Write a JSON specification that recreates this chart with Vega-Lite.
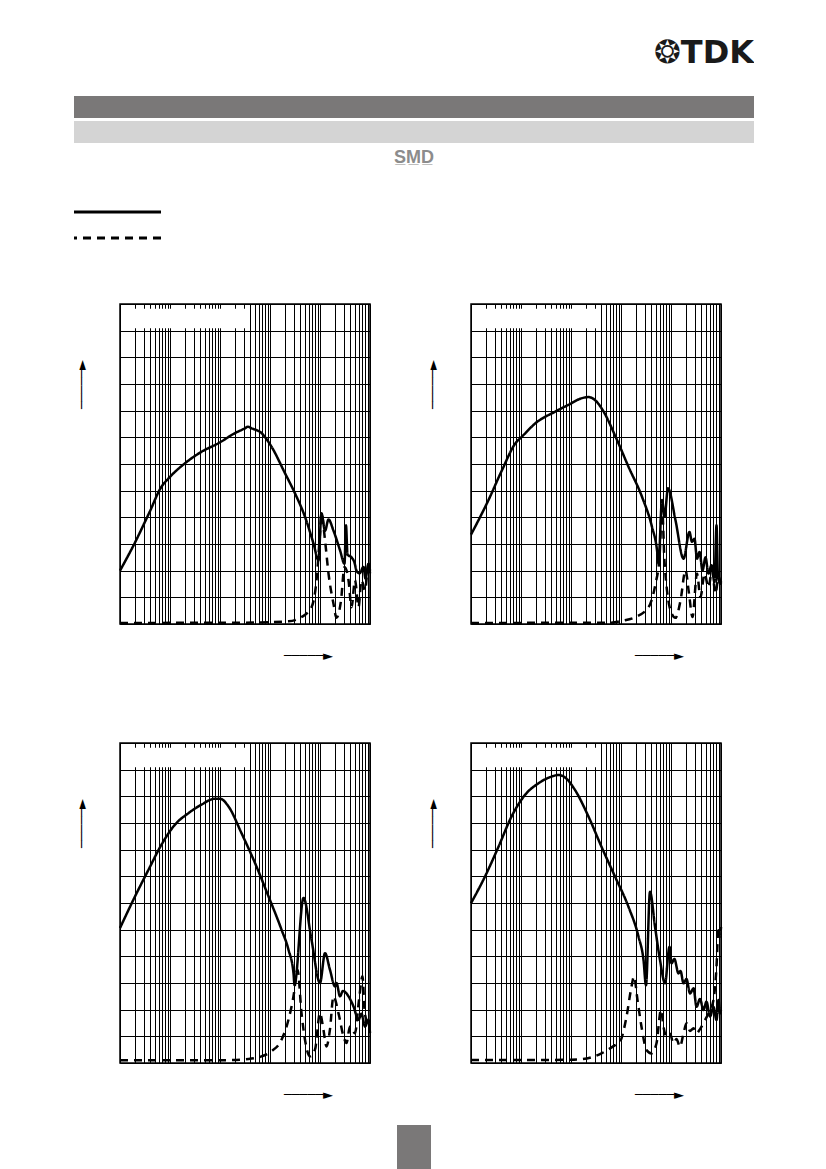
{
  "$schema": "https://vega.github.io/schema/vega-lite/v6.json",
  "background": "white",
  "padding": {"left": 72, "top": 0, "right": 0, "bottom": 0},
  "autosize": {"type": "pad"},
  "bounds": "flush",
  "spacing": 0,
  "config": {
    "view": {"stroke": null},
    "line": {"interpolate": "monotone", "strokeWidth": 2.5, "stroke": "black", "clip": true},
    "axis": {
      "grid": true,
      "gridColor": "black",
      "gridWidth": 1,
      "gridOpacity": 1,
      "labels": false,
      "ticks": false,
      "domain": false,
      "titleFont": "DejaVu Sans",
      "titleFontSize": 13,
      "titleFontWeight": "bold",
      "titleColor": "black",
      "titleAlign": "center",
      "titleBaseline": "middle",
      "titlePadding": 0
    },
    "axisX": {"titleX": 188, "titleY": 31},
    "axisY": {"titleX": -39, "titleY": 80, "titleAngle": 270}
  },
  "datasets": {
    "curves": [
      {"p": 1, "s": "solid", "f": 0.01, "db": 20},
      {"p": 1, "s": "solid", "f": 0.0195, "db": 30.2},
      {"p": 1, "s": "solid", "f": 0.038, "db": 41.5},
      {"p": 1, "s": "solid", "f": 0.0676, "db": 51.5},
      {"p": 1, "s": "solid", "f": 0.0933, "db": 54.6},
      {"p": 1, "s": "solid", "f": 0.2, "db": 60.3},
      {"p": 1, "s": "solid", "f": 0.427, "db": 64.6},
      {"p": 1, "s": "solid", "f": 0.933, "db": 67.8},
      {"p": 1, "s": "solid", "f": 2.0, "db": 71.6},
      {"p": 1, "s": "solid", "f": 3.16, "db": 73.4},
      {"p": 1, "s": "solid", "f": 3.63, "db": 74},
      {"p": 1, "s": "solid", "f": 4.27, "db": 73.4},
      {"p": 1, "s": "solid", "f": 6.76, "db": 71.6},
      {"p": 1, "s": "solid", "f": 10.7, "db": 66.5},
      {"p": 1, "s": "solid", "f": 20, "db": 56.5},
      {"p": 1, "s": "solid", "f": 31.6, "db": 49},
      {"p": 1, "s": "solid", "f": 50.1, "db": 40.2},
      {"p": 1, "s": "solid", "f": 74.1, "db": 30.2},
      {"p": 1, "s": "solid", "f": 93.3, "db": 23.9},
      {"p": 1, "s": "solid", "f": 107, "db": 41.5},
      {"p": 1, "s": "solid", "f": 126, "db": 35},
      {"p": 1, "s": "solid", "f": 148, "db": 39.2},
      {"p": 1, "s": "solid", "f": 186, "db": 35},
      {"p": 1, "s": "solid", "f": 251, "db": 27.7},
      {"p": 1, "s": "solid", "f": 309, "db": 22.6},
      {"p": 1, "s": "solid", "f": 331, "db": 37},
      {"p": 1, "s": "solid", "f": 355, "db": 26},
      {"p": 1, "s": "solid", "f": 427, "db": 25},
      {"p": 1, "s": "solid", "f": 490, "db": 23},
      {"p": 1, "s": "solid", "f": 537, "db": 20},
      {"p": 1, "s": "solid", "f": 617, "db": 19},
      {"p": 1, "s": "solid", "f": 741, "db": 21.4},
      {"p": 1, "s": "solid", "f": 813, "db": 17},
      {"p": 1, "s": "solid", "f": 933, "db": 22.6},
      {"p": 1, "s": "solid", "f": 1000, "db": 20},
      {"p": 1, "s": "dashed", "f": 0.01, "db": 0.4},
      {"p": 1, "s": "dashed", "f": 3.16, "db": 0.5},
      {"p": 1, "s": "dashed", "f": 23.4, "db": 1},
      {"p": 1, "s": "dashed", "f": 42.7, "db": 2.6},
      {"p": 1, "s": "dashed", "f": 67.6, "db": 6.3},
      {"p": 1, "s": "dashed", "f": 85.1, "db": 16.4},
      {"p": 1, "s": "dashed", "f": 100, "db": 34},
      {"p": 1, "s": "dashed", "f": 107, "db": 41.5},
      {"p": 1, "s": "dashed", "f": 126, "db": 31.4},
      {"p": 1, "s": "dashed", "f": 148, "db": 18.9},
      {"p": 1, "s": "dashed", "f": 186, "db": 7.6},
      {"p": 1, "s": "dashed", "f": 214, "db": 2.3},
      {"p": 1, "s": "dashed", "f": 263, "db": 8.8},
      {"p": 1, "s": "dashed", "f": 309, "db": 21.4},
      {"p": 1, "s": "dashed", "f": 372, "db": 16.4},
      {"p": 1, "s": "dashed", "f": 427, "db": 6.3},
      {"p": 1, "s": "dashed", "f": 501, "db": 16.4},
      {"p": 1, "s": "dashed", "f": 589, "db": 6.3},
      {"p": 1, "s": "dashed", "f": 676, "db": 16.4},
      {"p": 1, "s": "dashed", "f": 794, "db": 12.6},
      {"p": 1, "s": "dashed", "f": 933, "db": 22.6},
      {"p": 1, "s": "dashed", "f": 1000, "db": 19},
      {"p": 2, "s": "solid", "f": 0.01, "db": 33.5},
      {"p": 2, "s": "solid", "f": 0.0224, "db": 46.5},
      {"p": 2, "s": "solid", "f": 0.0417, "db": 57.7},
      {"p": 2, "s": "solid", "f": 0.0776, "db": 67.8},
      {"p": 2, "s": "solid", "f": 0.105, "db": 70.3},
      {"p": 2, "s": "solid", "f": 0.195, "db": 75.3},
      {"p": 2, "s": "solid", "f": 0.49, "db": 79.7},
      {"p": 2, "s": "solid", "f": 0.891, "db": 82.2},
      {"p": 2, "s": "solid", "f": 1.66, "db": 84.7},
      {"p": 2, "s": "solid", "f": 2.24, "db": 85.1},
      {"p": 2, "s": "solid", "f": 3.09, "db": 83.8},
      {"p": 2, "s": "solid", "f": 4.47, "db": 79.7},
      {"p": 2, "s": "solid", "f": 7.76, "db": 70.3},
      {"p": 2, "s": "solid", "f": 14.1, "db": 59},
      {"p": 2, "s": "solid", "f": 26.3, "db": 47.7},
      {"p": 2, "s": "solid", "f": 41.7, "db": 36.4},
      {"p": 2, "s": "solid", "f": 52.5, "db": 27.7},
      {"p": 2, "s": "solid", "f": 56.2, "db": 22.6},
      {"p": 2, "s": "solid", "f": 66.1, "db": 46.5},
      {"p": 2, "s": "solid", "f": 74.1, "db": 40.2},
      {"p": 2, "s": "solid", "f": 87.1, "db": 50.9},
      {"p": 2, "s": "solid", "f": 123, "db": 38.9},
      {"p": 2, "s": "solid", "f": 178, "db": 24.5},
      {"p": 2, "s": "solid", "f": 234, "db": 34.5},
      {"p": 2, "s": "solid", "f": 263, "db": 30.8},
      {"p": 2, "s": "solid", "f": 295, "db": 32},
      {"p": 2, "s": "solid", "f": 331, "db": 24.5},
      {"p": 2, "s": "solid", "f": 372, "db": 27},
      {"p": 2, "s": "solid", "f": 427, "db": 20.1},
      {"p": 2, "s": "solid", "f": 490, "db": 25},
      {"p": 2, "s": "solid", "f": 562, "db": 18.9},
      {"p": 2, "s": "solid", "f": 646, "db": 22},
      {"p": 2, "s": "solid", "f": 741, "db": 15.7},
      {"p": 2, "s": "solid", "f": 813, "db": 37},
      {"p": 2, "s": "solid", "f": 871, "db": 17.6},
      {"p": 2, "s": "solid", "f": 977, "db": 15.1},
      {"p": 2, "s": "solid", "f": 1000, "db": 16},
      {"p": 2, "s": "dashed", "f": 0.01, "db": 0.4},
      {"p": 2, "s": "dashed", "f": 6.31, "db": 0.5},
      {"p": 2, "s": "dashed", "f": 10.5, "db": 1.2},
      {"p": 2, "s": "dashed", "f": 19.5, "db": 2.6},
      {"p": 2, "s": "dashed", "f": 35.5, "db": 6.3},
      {"p": 2, "s": "dashed", "f": 49, "db": 15.1},
      {"p": 2, "s": "dashed", "f": 58.9, "db": 25},
      {"p": 2, "s": "dashed", "f": 66.1, "db": 44},
      {"p": 2, "s": "dashed", "f": 74.1, "db": 23.6},
      {"p": 2, "s": "dashed", "f": 83.2, "db": 12.6},
      {"p": 2, "s": "dashed", "f": 97.7, "db": 5.1},
      {"p": 2, "s": "dashed", "f": 123, "db": 2.3},
      {"p": 2, "s": "dashed", "f": 155, "db": 8.8},
      {"p": 2, "s": "dashed", "f": 195, "db": 20.1},
      {"p": 2, "s": "dashed", "f": 229, "db": 11.4},
      {"p": 2, "s": "dashed", "f": 269, "db": 2.6},
      {"p": 2, "s": "dashed", "f": 331, "db": 18.9},
      {"p": 2, "s": "dashed", "f": 389, "db": 10.1},
      {"p": 2, "s": "dashed", "f": 468, "db": 18.9},
      {"p": 2, "s": "dashed", "f": 562, "db": 13.8},
      {"p": 2, "s": "dashed", "f": 661, "db": 20.1},
      {"p": 2, "s": "dashed", "f": 776, "db": 11.4},
      {"p": 2, "s": "dashed", "f": 891, "db": 17.6},
      {"p": 2, "s": "dashed", "f": 1000, "db": 15.1},
      {"p": 3, "s": "solid", "f": 0.01, "db": 50.6},
      {"p": 3, "s": "solid", "f": 0.02, "db": 62.5},
      {"p": 3, "s": "solid", "f": 0.0372, "db": 72.5},
      {"p": 3, "s": "solid", "f": 0.0676, "db": 81.9},
      {"p": 3, "s": "solid", "f": 0.126, "db": 89.4},
      {"p": 3, "s": "solid", "f": 0.234, "db": 93.7},
      {"p": 3, "s": "solid", "f": 0.427, "db": 96.9},
      {"p": 3, "s": "solid", "f": 0.794, "db": 99.1},
      {"p": 3, "s": "solid", "f": 1.0, "db": 99.1},
      {"p": 3, "s": "solid", "f": 1.48, "db": 96.2},
      {"p": 3, "s": "solid", "f": 2.69, "db": 86.2},
      {"p": 3, "s": "solid", "f": 5.01, "db": 75},
      {"p": 3, "s": "solid", "f": 9.33, "db": 62.5},
      {"p": 3, "s": "solid", "f": 17, "db": 50},
      {"p": 3, "s": "solid", "f": 23.4, "db": 42.5},
      {"p": 3, "s": "solid", "f": 29.5, "db": 33.7},
      {"p": 3, "s": "solid", "f": 30.9, "db": 29.4},
      {"p": 3, "s": "solid", "f": 46.8, "db": 61.9},
      {"p": 3, "s": "solid", "f": 67.6, "db": 46.2},
      {"p": 3, "s": "solid", "f": 100, "db": 30},
      {"p": 3, "s": "solid", "f": 126, "db": 41.2},
      {"p": 3, "s": "solid", "f": 158, "db": 35},
      {"p": 3, "s": "solid", "f": 200, "db": 28.7},
      {"p": 3, "s": "solid", "f": 214, "db": 30},
      {"p": 3, "s": "solid", "f": 251, "db": 25},
      {"p": 3, "s": "solid", "f": 288, "db": 27},
      {"p": 3, "s": "solid", "f": 372, "db": 25},
      {"p": 3, "s": "solid", "f": 468, "db": 21.2},
      {"p": 3, "s": "solid", "f": 589, "db": 16.2},
      {"p": 3, "s": "solid", "f": 676, "db": 18.5},
      {"p": 3, "s": "solid", "f": 794, "db": 13.7},
      {"p": 3, "s": "solid", "f": 933, "db": 16.2},
      {"p": 3, "s": "solid", "f": 1000, "db": 11.2},
      {"p": 3, "s": "dashed", "f": 0.01, "db": 1},
      {"p": 3, "s": "dashed", "f": 1, "db": 1},
      {"p": 3, "s": "dashed", "f": 3.72, "db": 1.5},
      {"p": 3, "s": "dashed", "f": 6.76, "db": 2.5},
      {"p": 3, "s": "dashed", "f": 10.7, "db": 4.4},
      {"p": 3, "s": "dashed", "f": 17, "db": 8.7},
      {"p": 3, "s": "dashed", "f": 23.4, "db": 16.2},
      {"p": 3, "s": "dashed", "f": 29.5, "db": 25},
      {"p": 3, "s": "dashed", "f": 35.5, "db": 35},
      {"p": 3, "s": "dashed", "f": 42.7, "db": 18.7},
      {"p": 3, "s": "dashed", "f": 50.1, "db": 8.7},
      {"p": 3, "s": "dashed", "f": 63.1, "db": 2.5},
      {"p": 3, "s": "dashed", "f": 79.4, "db": 5},
      {"p": 3, "s": "dashed", "f": 100, "db": 18.7},
      {"p": 3, "s": "dashed", "f": 117, "db": 12.5},
      {"p": 3, "s": "dashed", "f": 135, "db": 6.2},
      {"p": 3, "s": "dashed", "f": 158, "db": 12.5},
      {"p": 3, "s": "dashed", "f": 186, "db": 25},
      {"p": 3, "s": "dashed", "f": 234, "db": 18.7},
      {"p": 3, "s": "dashed", "f": 295, "db": 10},
      {"p": 3, "s": "dashed", "f": 339, "db": 7.5},
      {"p": 3, "s": "dashed", "f": 398, "db": 13.7},
      {"p": 3, "s": "dashed", "f": 501, "db": 11.2},
      {"p": 3, "s": "dashed", "f": 603, "db": 23.7},
      {"p": 3, "s": "dashed", "f": 708, "db": 32.5},
      {"p": 3, "s": "dashed", "f": 776, "db": 20},
      {"p": 3, "s": "dashed", "f": 851, "db": 16},
      {"p": 3, "s": "dashed", "f": 1000, "db": 13.7},
      {"p": 4, "s": "solid", "f": 0.01, "db": 59.9},
      {"p": 4, "s": "solid", "f": 0.019, "db": 69.9},
      {"p": 4, "s": "solid", "f": 0.0355, "db": 81.1},
      {"p": 4, "s": "solid", "f": 0.0646, "db": 92.4},
      {"p": 4, "s": "solid", "f": 0.12, "db": 100.5},
      {"p": 4, "s": "solid", "f": 0.224, "db": 104.9},
      {"p": 4, "s": "solid", "f": 0.407, "db": 107.4},
      {"p": 4, "s": "solid", "f": 0.562, "db": 108},
      {"p": 4, "s": "solid", "f": 0.759, "db": 107.1},
      {"p": 4, "s": "solid", "f": 1.2, "db": 102.4},
      {"p": 4, "s": "solid", "f": 2.24, "db": 92.4},
      {"p": 4, "s": "solid", "f": 4.07, "db": 81.1},
      {"p": 4, "s": "solid", "f": 7.59, "db": 69.9},
      {"p": 4, "s": "solid", "f": 14.1, "db": 58.6},
      {"p": 4, "s": "solid", "f": 22.4, "db": 47.4},
      {"p": 4, "s": "solid", "f": 28.2, "db": 38.6},
      {"p": 4, "s": "solid", "f": 31.6, "db": 29.2},
      {"p": 4, "s": "solid", "f": 38, "db": 64.2},
      {"p": 4, "s": "solid", "f": 47.9, "db": 51.1},
      {"p": 4, "s": "solid", "f": 60.3, "db": 38.6},
      {"p": 4, "s": "solid", "f": 75.9, "db": 29.9},
      {"p": 4, "s": "solid", "f": 93.3, "db": 43.6},
      {"p": 4, "s": "solid", "f": 102, "db": 37.4},
      {"p": 4, "s": "solid", "f": 117, "db": 39},
      {"p": 4, "s": "solid", "f": 141, "db": 33.6},
      {"p": 4, "s": "solid", "f": 155, "db": 34.5},
      {"p": 4, "s": "solid", "f": 178, "db": 29.9},
      {"p": 4, "s": "solid", "f": 204, "db": 31.5},
      {"p": 4, "s": "solid", "f": 240, "db": 26.1},
      {"p": 4, "s": "solid", "f": 282, "db": 28},
      {"p": 4, "s": "solid", "f": 324, "db": 21.1},
      {"p": 4, "s": "solid", "f": 380, "db": 24},
      {"p": 4, "s": "solid", "f": 447, "db": 19.9},
      {"p": 4, "s": "solid", "f": 513, "db": 23},
      {"p": 4, "s": "solid", "f": 603, "db": 17.4},
      {"p": 4, "s": "solid", "f": 708, "db": 21},
      {"p": 4, "s": "solid", "f": 813, "db": 16.1},
      {"p": 4, "s": "solid", "f": 891, "db": 23.6},
      {"p": 4, "s": "solid", "f": 955, "db": 18.6},
      {"p": 4, "s": "solid", "f": 1000, "db": 20},
      {"p": 4, "s": "dashed", "f": 0.01, "db": 1.1},
      {"p": 4, "s": "dashed", "f": 1, "db": 1.2},
      {"p": 4, "s": "dashed", "f": 1.62, "db": 1.4},
      {"p": 4, "s": "dashed", "f": 4.07, "db": 3.6},
      {"p": 4, "s": "dashed", "f": 7.59, "db": 6.7},
      {"p": 4, "s": "dashed", "f": 9.55, "db": 8},
      {"p": 4, "s": "dashed", "f": 12.9, "db": 17.4},
      {"p": 4, "s": "dashed", "f": 16.2, "db": 28.6},
      {"p": 4, "s": "dashed", "f": 18.2, "db": 32.4},
      {"p": 4, "s": "dashed", "f": 21.4, "db": 23.6},
      {"p": 4, "s": "dashed", "f": 25.7, "db": 13.6},
      {"p": 4, "s": "dashed", "f": 32.4, "db": 4.9},
      {"p": 4, "s": "dashed", "f": 40.7, "db": 3.6},
      {"p": 4, "s": "dashed", "f": 51.3, "db": 7.4},
      {"p": 4, "s": "dashed", "f": 63.1, "db": 19.9},
      {"p": 4, "s": "dashed", "f": 70.8, "db": 13.6},
      {"p": 4, "s": "dashed", "f": 81.3, "db": 9.9},
      {"p": 4, "s": "dashed", "f": 95.5, "db": 11},
      {"p": 4, "s": "dashed", "f": 112, "db": 7.4},
      {"p": 4, "s": "dashed", "f": 129, "db": 9},
      {"p": 4, "s": "dashed", "f": 151, "db": 6.1},
      {"p": 4, "s": "dashed", "f": 178, "db": 11.1},
      {"p": 4, "s": "dashed", "f": 204, "db": 14.9},
      {"p": 4, "s": "dashed", "f": 240, "db": 12},
      {"p": 4, "s": "dashed", "f": 282, "db": 13},
      {"p": 4, "s": "dashed", "f": 324, "db": 11.1},
      {"p": 4, "s": "dashed", "f": 389, "db": 13},
      {"p": 4, "s": "dashed", "f": 479, "db": 16.1},
      {"p": 4, "s": "dashed", "f": 603, "db": 19.9},
      {"p": 4, "s": "dashed", "f": 708, "db": 23.6},
      {"p": 4, "s": "dashed", "f": 813, "db": 36.1},
      {"p": 4, "s": "dashed", "f": 891, "db": 51.1},
      {"p": 4, "s": "dashed", "f": 955, "db": 47.4},
      {"p": 4, "s": "dashed", "f": 1000, "db": 51}
    ]
  },
  "vconcat": [
    {
      "width": 680, "height": 96,
      "data": {"values": [{}]},
      "mark": {"type": "rect", "opacity": 0},
      "title": {"text": "❂TDK", "anchor": "end", "orient": "top", "offset": -95, "baseline": "alphabetic", "font": "DejaVu Sans", "fontSize": 32, "fontWeight": "bold", "color": "#1a1a1a"}
    },
    {
      "width": 680, "height": 22,
      "data": {"values": [{}]},
      "mark": {"type": "rect", "fill": "#7a7878"}
    },
    {
      "width": 680, "height": 3,
      "data": {"values": [{}]},
      "mark": {"type": "rect", "opacity": 0}
    },
    {
      "width": 680, "height": 22,
      "data": {"values": [{}]},
      "mark": {"type": "rect", "fill": "#d4d4d4"},
      "title": {"text": "S̲M̲D̲", "anchor": "middle", "orient": "bottom", "offset": 6, "font": "Liberation Sans", "fontSize": 18, "fontWeight": "bold", "color": "#8c8c8c"}
    },
    {
      "width": 680, "height": 69,
      "data": {"values": [{}]},
      "mark": {"type": "rect", "opacity": 0}
    },
    {
      "width": 87, "height": 26,
      "data": {"values": [{"s": "solid"}, {"s": "dashed"}]},
      "mark": {"type": "rule", "stroke": "black", "strokeWidth": 3},
      "encoding": {
        "y": {"field": "s", "type": "nominal", "scale": {"type": "point", "domain": ["solid", "dashed"], "padding": 0}, "axis": null},
        "strokeDash": {"field": "s", "type": "nominal", "scale": {"domain": ["solid", "dashed"], "range": [[1, 0], [8, 6]]}, "legend": null}
      }
    },
    {
      "width": 680, "height": 66,
      "data": {"values": [{}]},
      "mark": {"type": "rect", "opacity": 0}
    },
    {
      "bounds": "flush",
      "spacing": 0,
      "hconcat": [
        {"width": 46, "height": 320, "data": {"values": [{}]}, "mark": {"type": "rect", "opacity": 0}},
        {
          "width": 250, "height": 320,
          "view": {"stroke": "black", "strokeWidth": 1.5},
          "layer": [
            {
              "data": {"name": "curves"},
              "transform": [{"filter": "datum.p == 1"}],
              "mark": "line",
              "encoding": {
                "x": {"field": "f", "type": "quantitative", "title": "─────►", "scale": {"type": "log", "domain": [0.01, 1000], "nice": false}, "axis": {"values": [0.01,0.02,0.03,0.04,0.05,0.06,0.07,0.08,0.09,0.1,0.2,0.3,0.4,0.5,0.6,0.7,0.8,0.9,1,2,3,4,5,6,7,8,9,10,20,30,40,50,60,70,80,90,100,200,300,400,500,600,700,800,900,1000]}},
                "y": {"field": "db", "type": "quantitative", "title": "─────►", "scale": {"domain": [0, 120], "nice": false}, "axis": {"values": [0,10,20,30,40,50,60,70,80,90,100,110,120]}},
                "strokeDash": {"field": "s", "type": "nominal", "scale": {"domain": ["solid", "dashed"], "range": [[1, 0], [8, 5]]}, "legend": null}
              }
            },
            {
              "data": {"values": [{}]},
              "mark": {"type": "rect", "fill": "white"},
              "encoding": {
                "x": {"datum": 0.0105, "type": "quantitative", "title": "─────►", "axis": {"values": [0.01,0.02,0.03,0.04,0.05,0.06,0.07,0.08,0.09,0.1,0.2,0.3,0.4,0.5,0.6,0.7,0.8,0.9,1,2,3,4,5,6,7,8,9,10,20,30,40,50,60,70,80,90,100,200,300,400,500,600,700,800,900,1000]}},
                "x2": {"datum": 3.4},
                "y": {"datum": 110.9, "type": "quantitative", "title": "─────►", "axis": {"values": [0,10,20,30,40,50,60,70,80,90,100,110,120]}},
                "y2": {"datum": 118.2}
              }
            }
          ]
        },
        {"width": 101, "height": 320, "data": {"values": [{}]}, "mark": {"type": "rect", "opacity": 0}},
        {
          "width": 250, "height": 320,
          "view": {"stroke": "black", "strokeWidth": 1.5},
          "layer": [
            {
              "data": {"name": "curves"},
              "transform": [{"filter": "datum.p == 2"}],
              "mark": "line",
              "encoding": {
                "x": {"field": "f", "type": "quantitative", "title": "─────►", "scale": {"type": "log", "domain": [0.01, 1000], "nice": false}, "axis": {"values": [0.01,0.02,0.03,0.04,0.05,0.06,0.07,0.08,0.09,0.1,0.2,0.3,0.4,0.5,0.6,0.7,0.8,0.9,1,2,3,4,5,6,7,8,9,10,20,30,40,50,60,70,80,90,100,200,300,400,500,600,700,800,900,1000]}},
                "y": {"field": "db", "type": "quantitative", "title": "─────►", "scale": {"domain": [0, 120], "nice": false}, "axis": {"values": [0,10,20,30,40,50,60,70,80,90,100,110,120]}},
                "strokeDash": {"field": "s", "type": "nominal", "scale": {"domain": ["solid", "dashed"], "range": [[1, 0], [8, 5]]}, "legend": null}
              }
            },
            {
              "data": {"values": [{}]},
              "mark": {"type": "rect", "fill": "white"},
              "encoding": {
                "x": {"datum": 0.0105, "type": "quantitative", "title": "─────►", "axis": {"values": [0.01,0.02,0.03,0.04,0.05,0.06,0.07,0.08,0.09,0.1,0.2,0.3,0.4,0.5,0.6,0.7,0.8,0.9,1,2,3,4,5,6,7,8,9,10,20,30,40,50,60,70,80,90,100,200,300,400,500,600,700,800,900,1000]}},
                "x2": {"datum": 3.4},
                "y": {"datum": 110.9, "type": "quantitative", "title": "─────►", "axis": {"values": [0,10,20,30,40,50,60,70,80,90,100,110,120]}},
                "y2": {"datum": 118.2}
              }
            }
          ]
        }
      ]
    },
    {
      "width": 680, "height": 439,
      "data": {"values": [{}]},
      "mark": {"type": "rect", "opacity": 0}
    },
    {
      "bounds": "flush",
      "spacing": 0,
      "hconcat": [
        {"width": 46, "height": 320, "data": {"values": [{}]}, "mark": {"type": "rect", "opacity": 0}},
        {
          "width": 250, "height": 320,
          "view": {"stroke": "black", "strokeWidth": 1.5},
          "layer": [
            {
              "data": {"name": "curves"},
              "transform": [{"filter": "datum.p == 3"}],
              "mark": "line",
              "encoding": {
                "x": {"field": "f", "type": "quantitative", "title": "─────►", "scale": {"type": "log", "domain": [0.01, 1000], "nice": false}, "axis": {"values": [0.01,0.02,0.03,0.04,0.05,0.06,0.07,0.08,0.09,0.1,0.2,0.3,0.4,0.5,0.6,0.7,0.8,0.9,1,2,3,4,5,6,7,8,9,10,20,30,40,50,60,70,80,90,100,200,300,400,500,600,700,800,900,1000]}},
                "y": {"field": "db", "type": "quantitative", "title": "─────►", "scale": {"domain": [0, 120], "nice": false}, "axis": {"values": [0,10,20,30,40,50,60,70,80,90,100,110,120]}},
                "strokeDash": {"field": "s", "type": "nominal", "scale": {"domain": ["solid", "dashed"], "range": [[1, 0], [8, 5]]}, "legend": null}
              }
            },
            {
              "data": {"values": [{}]},
              "mark": {"type": "rect", "fill": "white"},
              "encoding": {
                "x": {"datum": 0.0105, "type": "quantitative", "title": "─────►", "axis": {"values": [0.01,0.02,0.03,0.04,0.05,0.06,0.07,0.08,0.09,0.1,0.2,0.3,0.4,0.5,0.6,0.7,0.8,0.9,1,2,3,4,5,6,7,8,9,10,20,30,40,50,60,70,80,90,100,200,300,400,500,600,700,800,900,1000]}},
                "x2": {"datum": 3.4},
                "y": {"datum": 110.9, "type": "quantitative", "title": "─────►", "axis": {"values": [0,10,20,30,40,50,60,70,80,90,100,110,120]}},
                "y2": {"datum": 118.2}
              }
            }
          ]
        },
        {"width": 101, "height": 320, "data": {"values": [{}]}, "mark": {"type": "rect", "opacity": 0}},
        {
          "width": 250, "height": 320,
          "view": {"stroke": "black", "strokeWidth": 1.5},
          "layer": [
            {
              "data": {"name": "curves"},
              "transform": [{"filter": "datum.p == 4"}],
              "mark": "line",
              "encoding": {
                "x": {"field": "f", "type": "quantitative", "title": "─────►", "scale": {"type": "log", "domain": [0.01, 1000], "nice": false}, "axis": {"values": [0.01,0.02,0.03,0.04,0.05,0.06,0.07,0.08,0.09,0.1,0.2,0.3,0.4,0.5,0.6,0.7,0.8,0.9,1,2,3,4,5,6,7,8,9,10,20,30,40,50,60,70,80,90,100,200,300,400,500,600,700,800,900,1000]}},
                "y": {"field": "db", "type": "quantitative", "title": "─────►", "scale": {"domain": [0, 120], "nice": false}, "axis": {"values": [0,10,20,30,40,50,60,70,80,90,100,110,120]}},
                "strokeDash": {"field": "s", "type": "nominal", "scale": {"domain": ["solid", "dashed"], "range": [[1, 0], [8, 5]]}, "legend": null}
              }
            },
            {
              "data": {"values": [{}]},
              "mark": {"type": "rect", "fill": "white"},
              "encoding": {
                "x": {"datum": 0.0105, "type": "quantitative", "title": "─────►", "axis": {"values": [0.01,0.02,0.03,0.04,0.05,0.06,0.07,0.08,0.09,0.1,0.2,0.3,0.4,0.5,0.6,0.7,0.8,0.9,1,2,3,4,5,6,7,8,9,10,20,30,40,50,60,70,80,90,100,200,300,400,500,600,700,800,900,1000]}},
                "x2": {"datum": 3.4},
                "y": {"datum": 110.9, "type": "quantitative", "title": "─────►", "axis": {"values": [0,10,20,30,40,50,60,70,80,90,100,110,120]}},
                "y2": {"datum": 118.2}
              }
            }
          ]
        }
      ]
    },
    {
      "width": 680, "height": 382,
      "data": {"values": [{}]},
      "mark": {"type": "rect", "opacity": 0}
    },
    {
      "bounds": "flush",
      "spacing": 0,
      "hconcat": [
        {"width": 323, "height": 44, "data": {"values": [{}]}, "mark": {"type": "rect", "opacity": 0}},
        {"width": 34, "height": 44, "data": {"values": [{}]}, "mark": {"type": "rect", "fill": "#7a7878"}}
      ]
    }
  ]
}
